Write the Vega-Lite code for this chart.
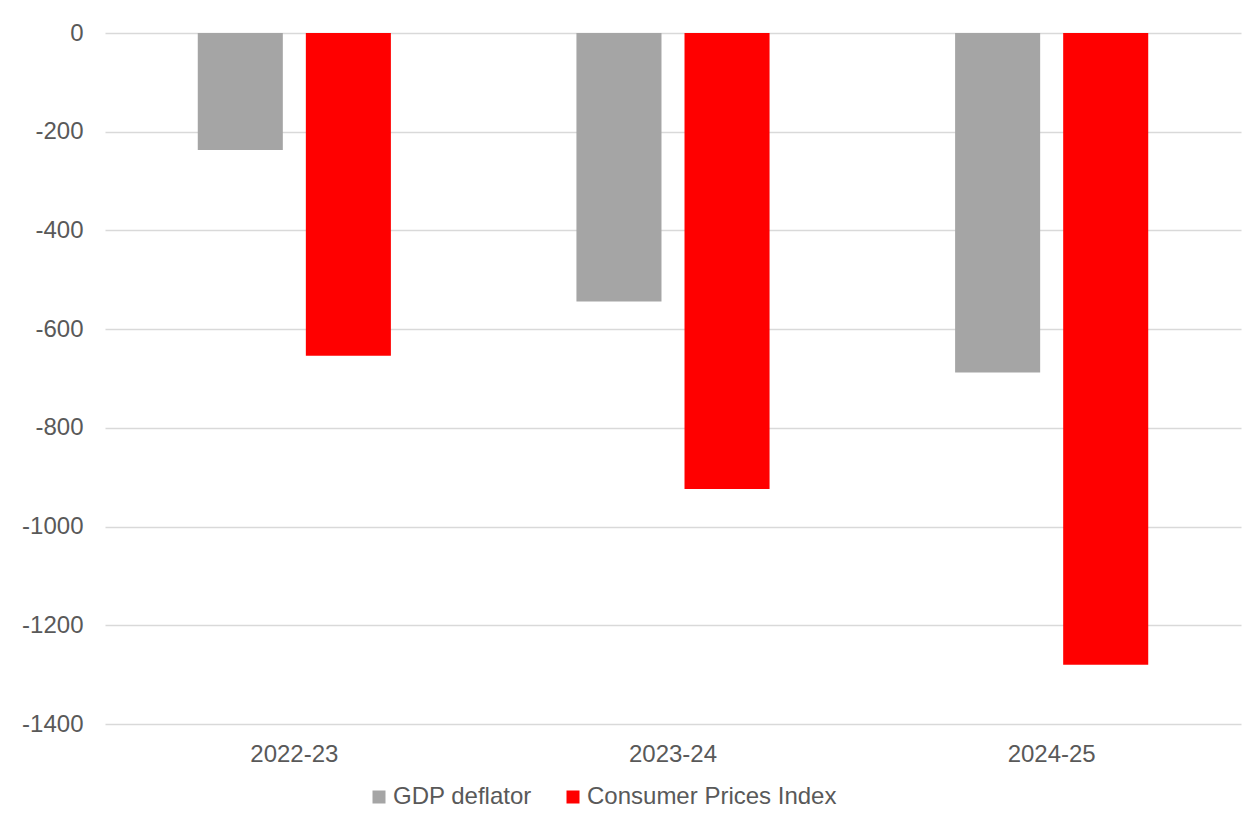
{
  "$schema": "https://vega.github.io/schema/vega-lite/v6.json",
  "autosize": "none",
  "width": 1136,
  "height": 691,
  "padding": {"left": 105, "top": 33, "right": 6, "bottom": 96},
  "background": "white",
  "config": {
    "font": "Liberation Sans",
    "view": {"stroke": null},
    "axis": {"labelFont": "Liberation Sans", "labelColor": "#595959"},
    "legend": {"labelFont": "Liberation Sans", "labelColor": "#595959"}
  },
  "data": {
    "values": [
      {"year": "2022-23", "series": "GDP deflator", "value": -237},
      {"year": "2022-23", "series": "Consumer Prices Index", "value": -654},
      {"year": "2023-24", "series": "GDP deflator", "value": -544},
      {"year": "2023-24", "series": "Consumer Prices Index", "value": -924},
      {"year": "2024-25", "series": "GDP deflator", "value": -688},
      {"year": "2024-25", "series": "Consumer Prices Index", "value": -1280}
    ]
  },
  "mark": {"type": "bar"},
  "encoding": {
    "x": {
      "field": "year",
      "type": "nominal",
      "sort": ["2022-23", "2023-24", "2024-25"],
      "scale": {"paddingInner": 0.49, "paddingOuter": 0.245},
      "axis": {
        "title": null,
        "labelAngle": 0,
        "labelFontSize": 24,
        "labelPadding": 18,
        "ticks": false,
        "domain": false,
        "grid": false
      }
    },
    "xOffset": {
      "field": "series",
      "type": "nominal",
      "sort": ["GDP deflator", "Consumer Prices Index"],
      "scale": {"paddingInner": 0.213, "paddingOuter": 0}
    },
    "y": {
      "field": "value",
      "type": "quantitative",
      "scale": {"domain": [-1400, 0], "nice": false, "zero": true},
      "axis": {
        "title": null,
        "values": [0, -200, -400, -600, -800, -1000, -1200, -1400],
        "labelExpr": "'' + datum.value",
        "labelFontSize": 24,
        "labelPadding": 22,
        "ticks": false,
        "domain": false,
        "grid": true,
        "gridColor": "#d9d9d9",
        "gridWidth": 1.3
      }
    },
    "color": {
      "field": "series",
      "type": "nominal",
      "sort": ["GDP deflator", "Consumer Prices Index"],
      "scale": {"domain": ["GDP deflator", "Consumer Prices Index"], "range": ["#a5a5a5", "#ff0000"]},
      "legend": {
        "title": null,
        "orient": "none",
        "legendX": 262,
        "legendY": 752,
        "direction": "horizontal",
        "symbolType": "square",
        "symbolSize": 169,
        "symbolStrokeWidth": 0,
        "labelFontSize": 24,
        "labelLimit": 0,
        "columnPadding": 29,
        "labelOffset": 2
      }
    }
  }
}
